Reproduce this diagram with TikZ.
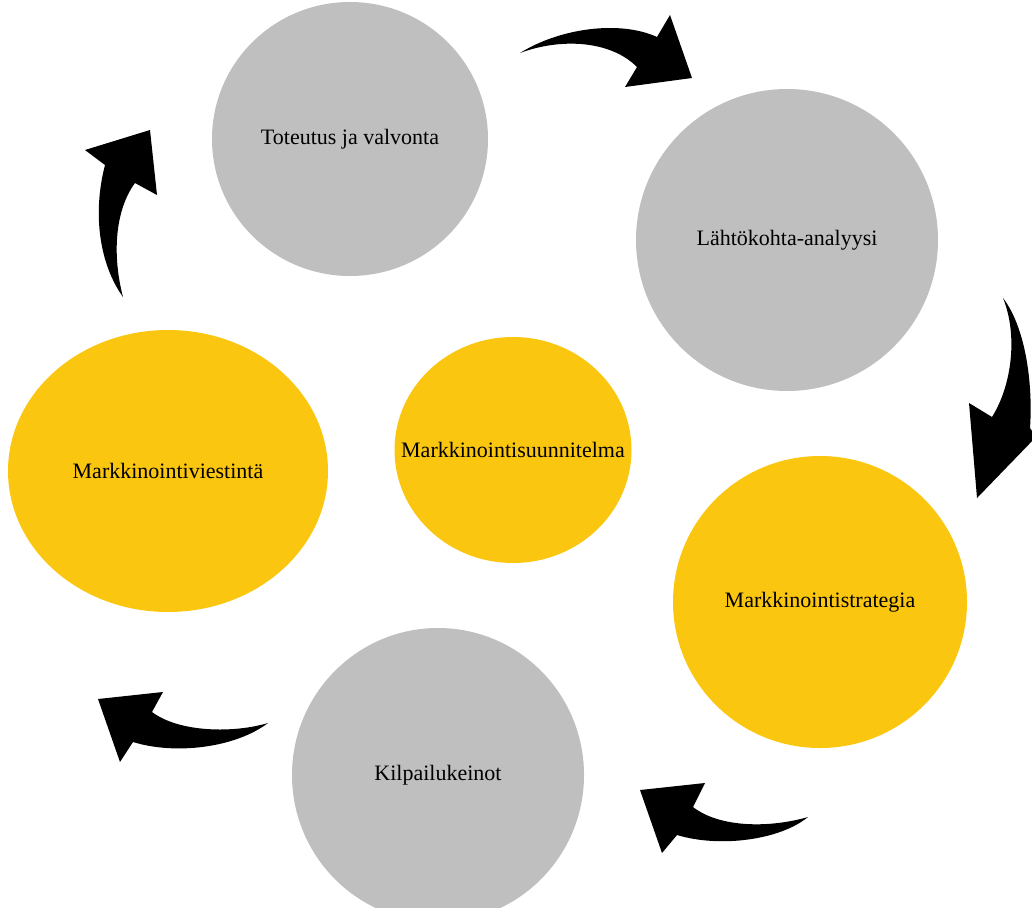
\documentclass[tikz,border=0pt]{standalone}
\usepackage{fontspec}
\setmainfont{Liberation Serif}
\usetikzlibrary{shapes.geometric}
\definecolor{ballgray}{RGB}{191,191,191}
\definecolor{ballgold}{RGB}{250,198,15}
\begin{document}
\begin{tikzpicture}[x=1pt,y=-1pt,line join=round,
	ball/.style={ellipse,inner sep=0pt,draw=none},
	grayball/.style={ball,fill=ballgray},
	goldball/.style={ball,fill=ballgold},
	font=\fontsize{22}{26}\selectfont]
	\useasboundingbox (0,0) rectangle (1032,907);
	\clip (0,0) rectangle (1032,907);
	% the six phases
	\node[grayball,minimum width=276,minimum height=274,label=center:{Toteutus ja valvonta}] (toteutus) at (350,139) {};
	\node[grayball,minimum width=302,minimum height=302,label=center:{Lähtökohta-analyysi}] (lahto) at (787,240) {};
	\node[goldball,minimum width=294,minimum height=292,label=center:{Markkinointistrategia}] (strategia) at (820,602) {};
	\node[grayball,minimum width=292,minimum height=294,label=center:{Kilpailukeinot}] (kilpailu) at (438,775) {};
	\node[goldball,minimum width=320,minimum height=282,label=center:{Markkinointiviestintä}] (viestinta) at (168,471) {};
	\node[goldball,minimum width=237,minimum height=226,label=center:{Markkinointisuunnitelma}] (suunnitelma) at (513,450) {};
	% curved arrows
	\fill (520,53) .. controls (560,28) and (620,20) .. (657,37) -- (670,15) -- (692,78) -- (625,87) -- (637,67) .. controls (610,40) and (560,38) .. cycle;
	\fill (1003,298) .. controls (1026,328) and (1033,385) .. (1030,428) -- (1036,437) -- (977,498) -- (969,403) -- (992,417) .. controls (1012,385) and (1018,335) .. cycle;
	\fill (808,817) .. controls (770,828) and (720,828) .. (693,807) -- (705,783) -- (640,790) -- (662,853) -- (677,835) .. controls (720,848) and (780,840) .. cycle;
	\fill (268,723) .. controls (235,733) and (180,733) .. (152,712) -- (163,692) -- (98,699) -- (120,762) -- (133,742) .. controls (175,755) and (235,748) .. cycle;
	\fill (123,297) .. controls (112,255) and (115,210) .. (135,183) -- (157,195) -- (150,130) -- (85,150) -- (105,165) .. controls (92,215) and (100,265) .. cycle;
\end{tikzpicture}
\end{document}
